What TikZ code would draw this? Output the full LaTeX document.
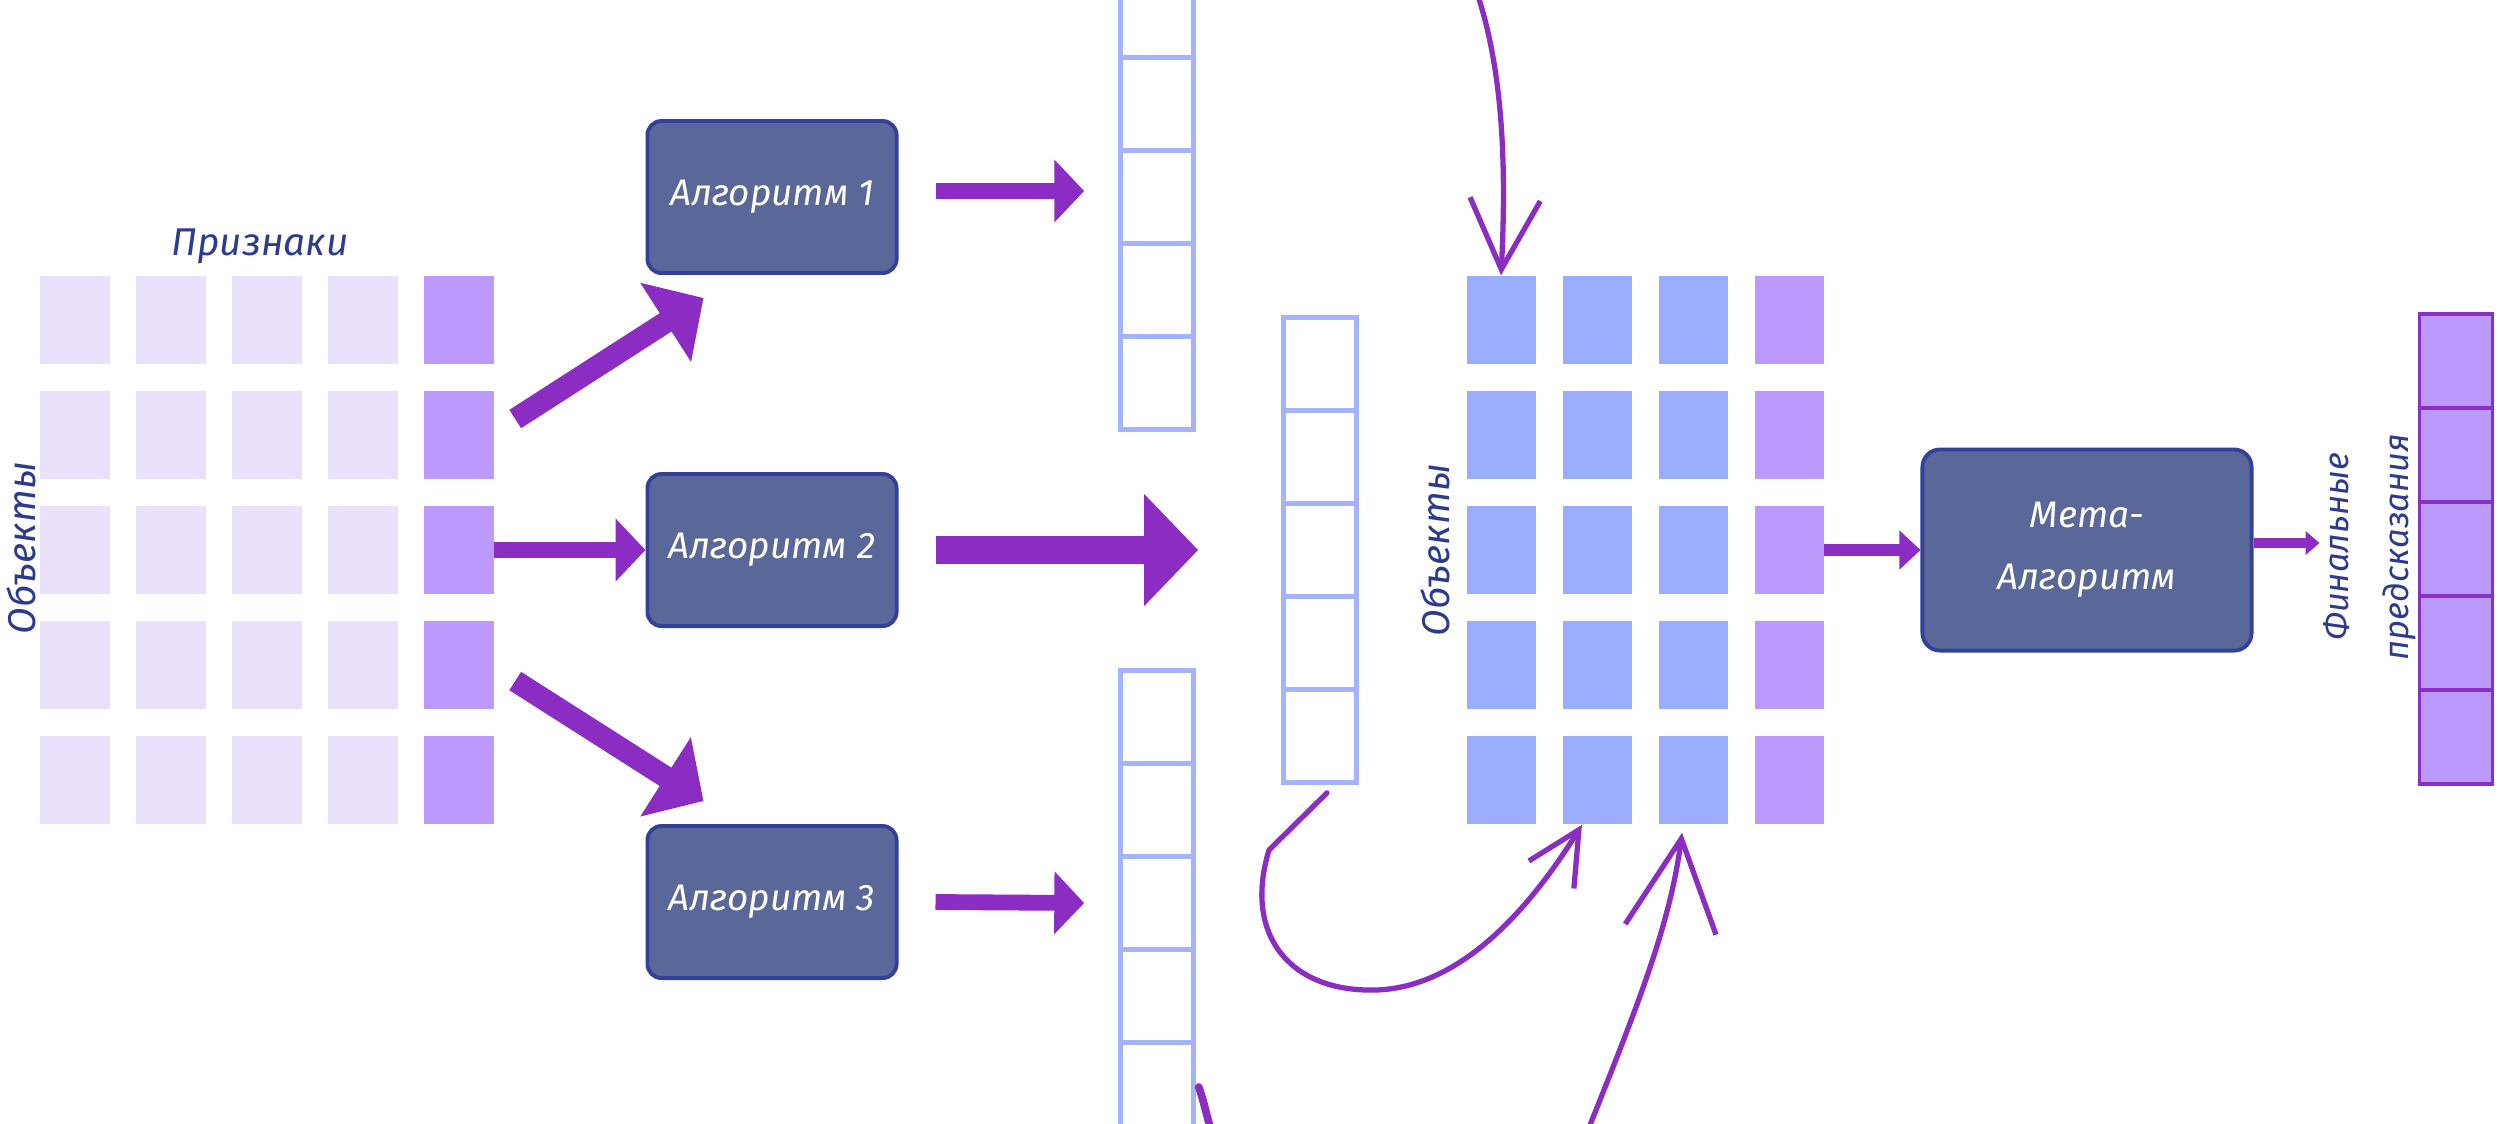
\documentclass[tikz,border=0pt]{standalone}
\usepackage{fontspec}
\setmainfont{Fira Sans}
\usetikzlibrary{arrows.meta,bending,positioning}

\definecolor{featlight}{HTML}{EAE2FD}
\definecolor{targlilac}{HTML}{BB99FD}
\definecolor{metablue}{HTML}{9AAEFD}
\definecolor{vecline}{HTML}{A3B4FD}
\definecolor{boxfill}{HTML}{5A6899}
\definecolor{boxedge}{HTML}{33419A}
\definecolor{flowpurple}{HTML}{8B2CC3}
\definecolor{finedge}{HTML}{8B2FC9}
\definecolor{inkblue}{HTML}{2C3A90}

\begin{document}
\begin{tikzpicture}[x=0.01cm,y=-0.01cm,
    cell/.style={fill=#1,minimum width=0.69cm,minimum height=0.88cm,inner sep=0pt},
    vec/.style={draw=vecline,line width=1.3pt,minimum width=0.73cm,minimum height=0.93cm,inner sep=0pt},
    fin/.style={draw=finedge,fill=targlilac,line width=1.1pt,minimum width=0.73cm,minimum height=0.94cm,inner sep=0pt},
    algo/.style={draw=boxedge,fill=boxfill,line width=1.1pt,rounded corners=4pt,text=white,
      minimum width=2.49cm,minimum height=1.52cm,font=\itshape\fontsize{10.5}{14}\selectfont},
    lbl/.style={text=inkblue,font=\itshape\fontsize{11}{16.8}\selectfont,align=center},
    fat/.style={draw=flowpurple,line width=6.2pt,-{Triangle[width=26pt,length=12.8pt]}},
    bigflow/.style={draw=flowpurple,line width=8pt,-{Triangle[width=31pt,length=15.4pt]}},
    flow/.style={draw=flowpurple,line width=4.5pt,-{Triangle[width=17.4pt,length=8.5pt]}},
    smallflow/.style={draw=flowpurple,line width=3.3pt,-{Triangle[width=10.8pt,length=6pt]}},
    tinyflow/.style={draw=flowpurple,line width=2.6pt,-{Triangle[width=6.6pt,length=4pt]}},
    sketch/.style={draw=flowpurple,line width=1.5pt,line cap=round,-{Straight Barb[length=#1,width=#1]}}]

  \useasboundingbox (0,0) rectangle (2503,1123);
  \clip (0,0) rectangle (2503,1123);

  % train table, last column is the target
  \foreach \r in {1,...,5} {
    \foreach \c in {1,...,4}
      \node[cell=featlight] (f-\r-\c) at ({75+96*(\c-1)},{320+115*(\r-1)}) {};
    \node[cell=targlilac] (f-\r-5) at (459,{320+115*(\r-1)}) {};
  }
  \node[lbl] (feats) at (260,246) {Признаки};
  \node[lbl,rotate=90] (objs) at (21,548) {Объекты};

  % base models
  \node[algo] (alg1) at (772,197) {Алгоритм 1};
  \node[algo] (alg2) at (772,550) {Алгоритм 2};
  \node[algo] (alg3) at (772,902) {Алгоритм 3};

  % their predictions
  \foreach \k in {1,...,5} {
    \node[vec] (pa-\k) at (1157,{197+93*(\k-3)}) {};
    \node[vec] (pb-\k) at (1320,{550+93*(\k-3)}) {};
    \node[vec] (pc-\k) at (1157,{903+93*(\k-3)}) {};
  }

  % meta table
  \foreach \r in {1,...,5} {
    \foreach \c in {1,...,3}
      \node[cell=metablue] (m-\r-\c) at ({1501+96*(\c-1)},{320+115*(\r-1)}) {};
    \node[cell=targlilac] (m-\r-4) at (1789,{320+115*(\r-1)}) {};
  }
  \node[lbl,rotate=90] (objs2) at (1435,550) {Объекты};

  \node[algo,minimum width=3.29cm,minimum height=2.01cm,rounded corners=5pt,align=center,
    font=\itshape\fontsize{10.5}{17.6}\selectfont] (meta) at (2087,550) {Мета-\\Алгоритм};

  \foreach \k in {1,...,5}
    \node[fin] (fin-\k) at (2456,{549+94*(\k-3)}) {};
  \node[lbl,rotate=90,font=\itshape\fontsize{9.8}{17}\selectfont] (finlbl) at (2370,547) {Финальные\\предсказания};

  % straight flows
  \draw[fat] ([shift={(21,-16)}]f-2-5.east) -- ([shift={(58,23)}]alg1.south west);
  \draw[flow] (f-3-5.east) -- (alg2.west);
  \draw[fat] ([shift={(21,16)}]f-4-5.east) -- ([shift={(58,-23)}]alg3.north west);

  \draw[flow] ([shift={(37,-6)}]alg1.east) -- ([shift={(-34,-6)}]pa-3.west);
  \draw[bigflow] ([shift={(37,0)}]alg2.east) -- ([shift={(-83,0)}]pb-3.west);
  \draw[flow] ([shift={(37,0)}]alg3.east) -- ([shift={(-34,0)}]pc-3.west);

  \draw[smallflow] (m-3-4.east) -- (meta.west);
  \draw[tinyflow] ([shift={(0,-7)}]meta.east) -- ([shift={(-98,-6)}]fin-3.west);

  % hand drawn arrows into the meta table
  \coordinate (fromtop) at (1476,-10);
  \draw[sketch=20pt] (fromtop) .. controls (1500,60) and (1508,150) .. (m-1-1.north);
  \draw[sketch=15pt] ([shift={(7,8)}]pb-5.south) -- (1269,850)
    .. controls (1243,935) and (1290,992) .. (1375,990)
    .. controls (1460,988) and (1530,910) .. ([shift={(-15,0)}]m-5-2.south);
  \coordinate (frombottom) at (1586,1135);
  \draw[sketch=26pt] (frombottom) .. controls (1640,1000) and (1672,920) .. ([shift={(-11,8)}]m-5-3.south);
  \draw[flowpurple,line width=2.2pt,line cap=round] ([shift={(3,-2)}]pc-5.east) .. controls (1203,1100) .. (1212,1135);
\end{tikzpicture}
\end{document}
